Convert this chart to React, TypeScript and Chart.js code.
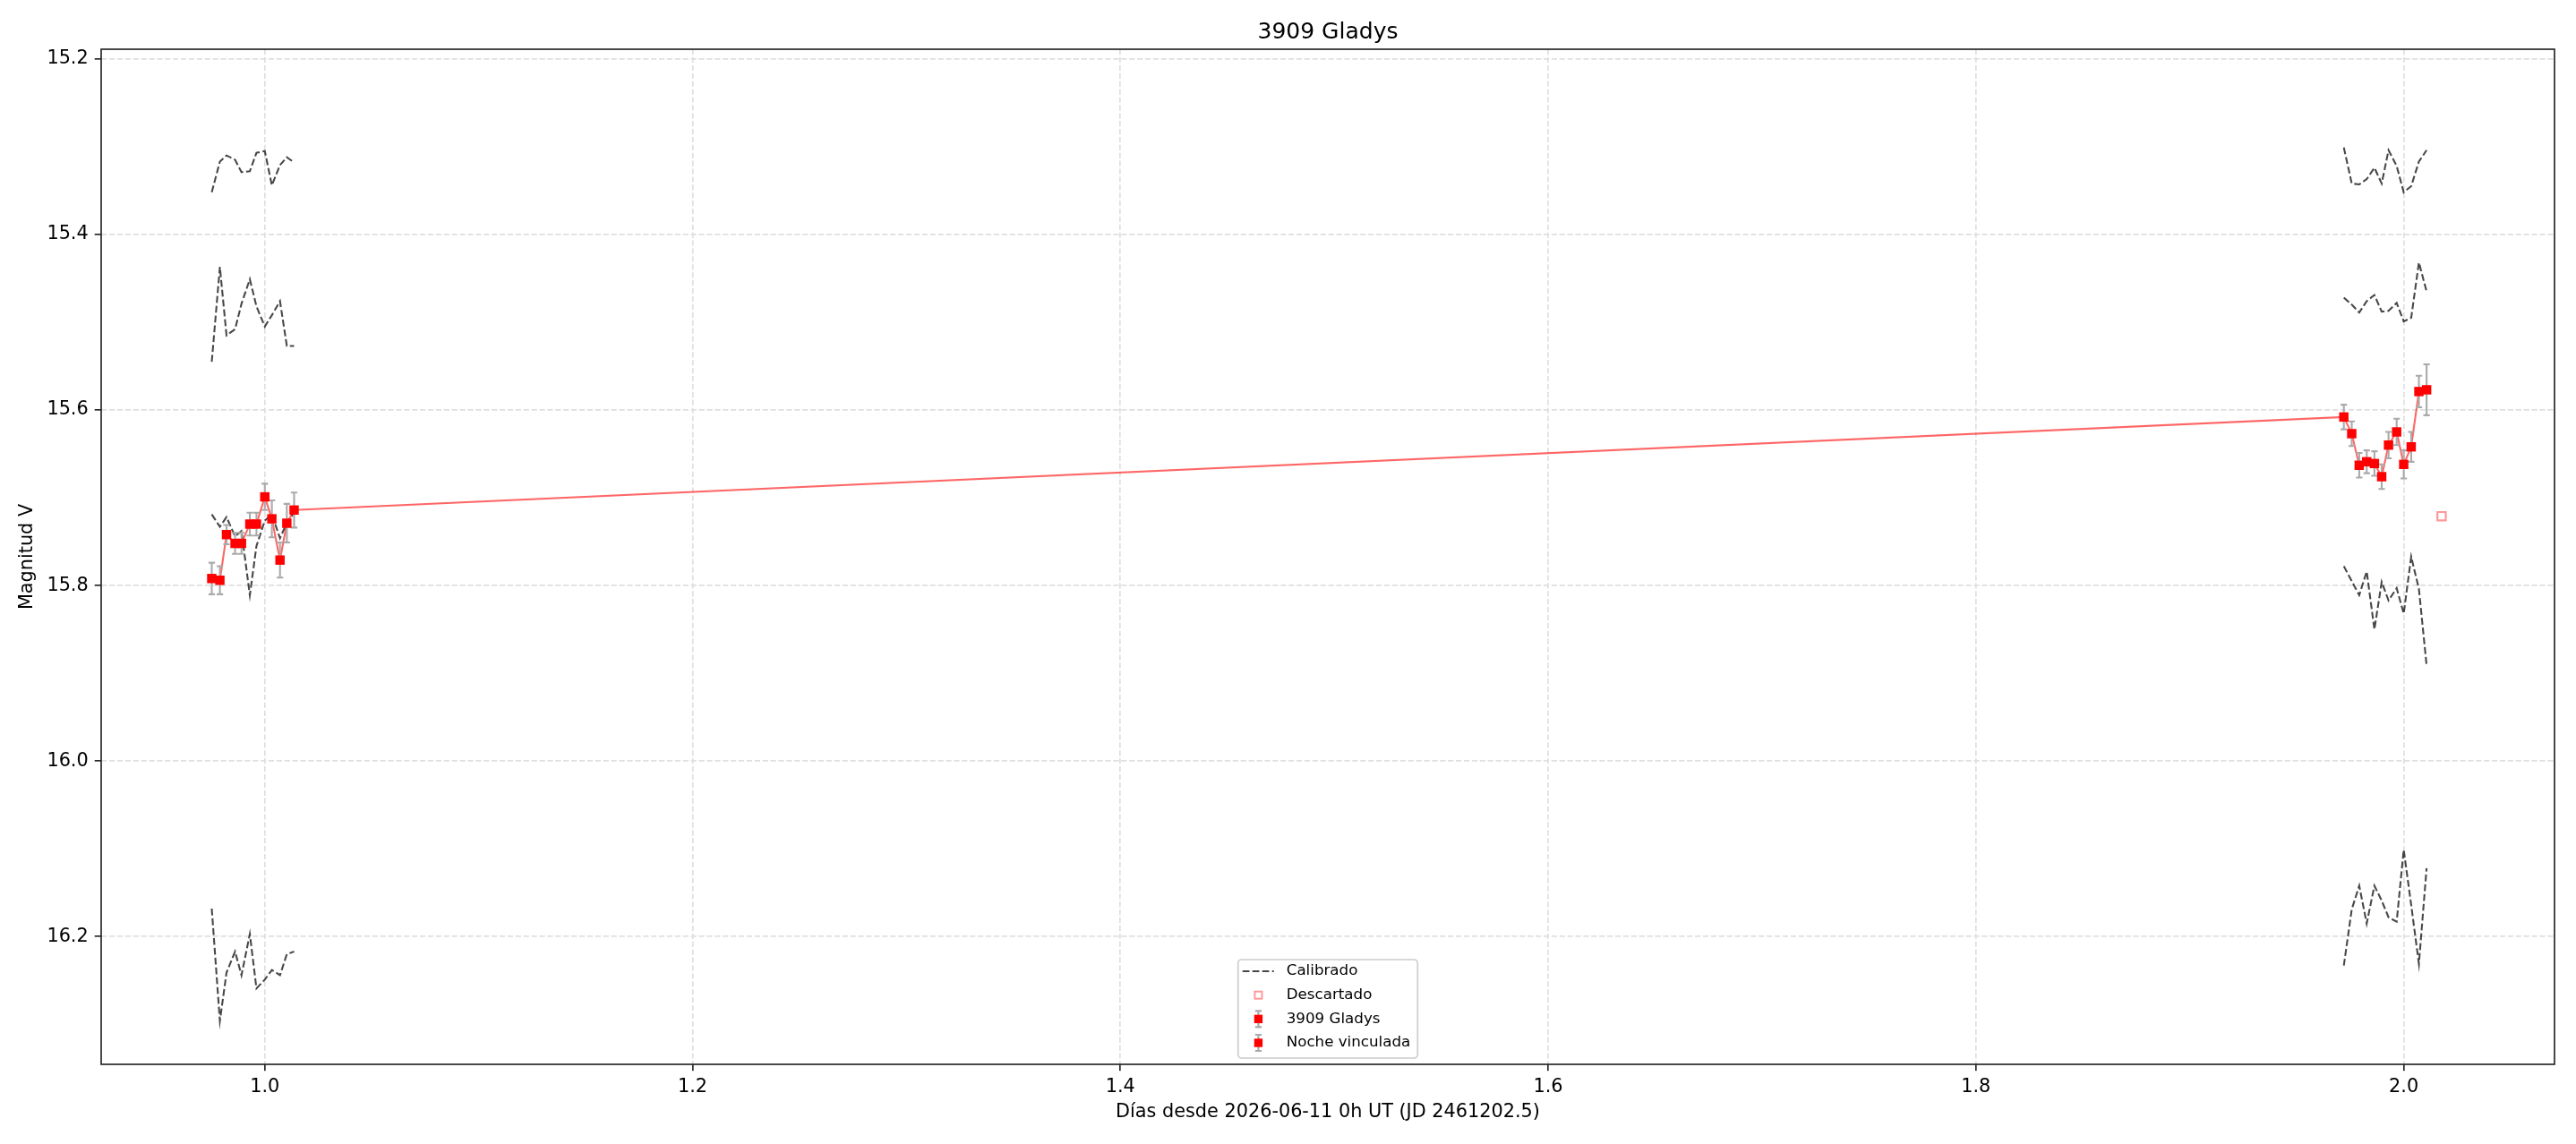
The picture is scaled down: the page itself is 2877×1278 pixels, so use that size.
import { useEffect, useRef } from 'react';
import { Chart, registerables } from 'chart.js';

Chart.register(...registerables);

const FONT = "'DejaVu Sans', 'Liberation Sans', sans-serif";

// Days since 2026-06-11 0h UT
const night1Days = [0.9752, 0.979, 0.9821, 0.9861, 0.9891, 0.993, 0.9961, 1.0, 1.0033, 1.0071, 1.0103, 1.0137];
const night2Days = [1.972, 1.9757, 1.9792, 1.9827, 1.9863, 1.9897, 1.9929, 1.9967, 2.0, 2.0035, 2.0071, 2.0107];

// 3909 Gladys magnitudes and errors
const night1Mag = [15.792, 15.794, 15.742, 15.752, 15.752, 15.73, 15.73, 15.699, 15.724, 15.771, 15.729, 15.714];
const night1Err = [0.018, 0.016, 0.011, 0.012, 0.012, 0.013, 0.013, 0.015, 0.021, 0.02, 0.022, 0.02];
const night2Mag = [15.608, 15.627, 15.663, 15.659, 15.661, 15.676, 15.64, 15.625, 15.662, 15.642, 15.579, 15.577];
const night2Err = [0.014, 0.014, 0.014, 0.013, 0.014, 0.014, 0.015, 0.015, 0.016, 0.017, 0.018, 0.029];

// Calibrated comparison stars
const compA1 = [15.352, 15.317, 15.31, 15.315, 15.329, 15.328, 15.307, 15.305, 15.344, 15.321, 15.312, 15.318];
const compB1 = [15.545, 15.437, 15.515, 15.508, 15.479, 15.451, 15.482, 15.505, 15.492, 15.476, 15.527, 15.527];
const compC1 = [15.719, 15.733, 15.722, 15.744, 15.738, 15.811, 15.755, 15.726, 15.719, 15.746, 15.729, 15.717];
const compD1 = [16.168, 16.296, 16.241, 16.217, 16.244, 16.197, 16.259, 16.249, 16.238, 16.244, 16.22, 16.217];
const compA2 = [15.301, 15.342, 15.343, 15.337, 15.324, 15.342, 15.304, 15.322, 15.352, 15.345, 15.317, 15.304];
const compB2 = [15.472, 15.48, 15.489, 15.476, 15.469, 15.488, 15.487, 15.478, 15.499, 15.495, 15.432, 15.465];
const compC2 = [15.778, 15.795, 15.811, 15.784, 15.85, 15.796, 15.817, 15.803, 15.832, 15.767, 15.804, 15.891];
const compD2 = [16.233, 16.169, 16.142, 16.185, 16.142, 16.159, 16.178, 16.183, 16.101, 16.164, 16.231, 16.122];

// Discarded observation
const discardedDays = [2.0177];
const discardedMag = [15.721];

const X_MIN = 0.9235;
const X_MAX = 2.0705;
const Y_TOP = 15.189;
const Y_BOTTOM = 16.3455;
const TICK_STEP = 0.2;

const TITLE = '3909 Gladys';
const legendLabels = ['Calibrado', 'Descartado', '3909 Gladys', 'Noche vinculada'];

const CAL_COLOR = 'rgba(0,0,0,0.72)';
const CAL_DASH = [7.7, 3.3];
const ERR_COLOR = '#aaaaaa';

const toPts = (xs: number[], ys: number[]) => xs.map((x, i) => ({ x, y: ys[i] }));

const errorBarPlugin = {
  id: 'errorBars',
  beforeDatasetDraw(chart: any, args: any) {
    const ds = chart.data.datasets[args.index];
    if (!ds.errors) return;
    const meta = chart.getDatasetMeta(args.index);
    const ys = chart.scales.y;
    const ctx = chart.ctx;
    ctx.save();
    ctx.strokeStyle = ERR_COLOR;
    ctx.lineWidth = 2.1;
    meta.data.forEach((pt: any, i: number) => {
      const d = ds.data[i];
      const e = ds.errors[i];
      const x = pt.x;
      const y1 = ys.getPixelForValue(d.y - e);
      const y2 = ys.getPixelForValue(d.y + e);
      ctx.beginPath();
      ctx.moveTo(x, y1);
      ctx.lineTo(x, y2);
      ctx.moveTo(x - 3.6, y1);
      ctx.lineTo(x + 3.6, y1);
      ctx.moveTo(x - 3.6, y2);
      ctx.lineTo(x + 3.6, y2);
      ctx.stroke();
    });
    ctx.restore();
  },
};

const frameLegendPlugin = {
  id: 'frameLegend',
  afterDraw(chart: any) {
    const { ctx, chartArea: a } = chart;
    ctx.save();
    ctx.strokeStyle = '#262626';
    ctx.lineWidth = 1.67;
    ctx.strokeRect(a.left, a.top, a.right - a.left, a.bottom - a.top);

    // title centred over the plot area
    ctx.font = `25px ${FONT}`;
    ctx.fillStyle = '#000000';
    ctx.textAlign = 'center';
    ctx.textBaseline = 'alphabetic';
    ctx.fillText(TITLE, (a.left + a.right) / 2, a.top - 12.5);

    ctx.font = `16.7px ${FONT}`;
    const textW = Math.max(...legendLabels.map((l) => ctx.measureText(l).width));
    const w = 54 + textW + 8;
    const h = 110;
    const x0 = (a.left + a.right) / 2 - w / 2;
    const y0 = a.bottom - 7 - h;
    ctx.beginPath();
    ctx.roundRect(x0, y0, w, h, 4);
    ctx.fillStyle = 'rgba(255,255,255,0.8)';
    ctx.fill();
    ctx.strokeStyle = '#cccccc';
    ctx.lineWidth = 1.67;
    ctx.stroke();

    const hx = x0 + 22.7;
    legendLabels.forEach((label, i) => {
      const cy = y0 + 13 + i * 26.67;
      if (i === 0) {
        ctx.save();
        ctx.strokeStyle = CAL_COLOR;
        ctx.lineWidth = 2.08;
        ctx.setLineDash(CAL_DASH);
        ctx.beginPath();
        ctx.moveTo(x0 + 5, cy);
        ctx.lineTo(x0 + 40, cy);
        ctx.stroke();
        ctx.restore();
      } else if (i === 1) {
        ctx.save();
        ctx.strokeStyle = '#ff9999';
        ctx.lineWidth = 2;
        ctx.strokeRect(hx - 4, cy - 4, 8, 8);
        ctx.restore();
      } else {
        ctx.save();
        ctx.strokeStyle = ERR_COLOR;
        ctx.lineWidth = 2.1;
        ctx.beginPath();
        ctx.moveTo(hx, cy - 9);
        ctx.lineTo(hx, cy + 9);
        ctx.moveTo(hx - 3.6, cy - 9);
        ctx.lineTo(hx + 3.6, cy - 9);
        ctx.moveTo(hx - 3.6, cy + 9);
        ctx.lineTo(hx + 3.6, cy + 9);
        ctx.stroke();
        ctx.fillStyle = '#ff0000';
        ctx.fillRect(hx - 4.7, cy - 4.7, 9.4, 9.4);
        ctx.restore();
      }
      ctx.fillStyle = '#000000';
      ctx.textBaseline = 'middle';
      ctx.textAlign = 'left';
      ctx.fillText(label, x0 + 54, cy);
    });
    ctx.restore();
  },
};

export default function App() {
  const canvasRef = useRef<HTMLCanvasElement | null>(null);

  useEffect(() => {
    document.body.style.margin = '0';
    const canvas = canvasRef.current;
    if (!canvas) return;

    const calDs = (label: string, xs: number[], ys: number[]) => ({
      label,
      data: toPts(xs, ys),
      borderColor: CAL_COLOR,
      borderWidth: 2.08,
      borderDash: CAL_DASH,
      pointRadius: 0,
      fill: false,
      tension: 0,
      order: 3,
    });

    const markerDs = (label: string, xs: number[], ys: number[], errs: number[]) => ({
      label,
      data: toPts(xs, ys),
      errors: errs,
      showLine: false,
      pointStyle: 'rect',
      pointRadius: 7.4,
      pointBackgroundColor: '#ff0000',
      pointBorderWidth: 0,
      borderWidth: 0,
      order: 0,
    });

    const allDays = [...night1Days, ...night2Days];
    const allMag = [...night1Mag, ...night2Mag];

    const tickFont = { family: FONT, size: 20.8 };

    const chart = new Chart(canvas, {
      type: 'line',
      data: {
        datasets: [
          markerDs('3909 Gladys', night1Days, night1Mag, night1Err),
          markerDs('Noche vinculada', night2Days, night2Mag, night2Err),
          {
            label: 'Descartado',
            data: toPts(discardedDays, discardedMag),
            showLine: false,
            pointStyle: 'rect',
            pointRadius: 6.6,
            pointBackgroundColor: 'rgba(255,255,255,0)',
            pointBorderColor: '#ff9999',
            pointBorderWidth: 2.2,
            order: 1,
          },
          {
            label: 'gladysLine',
            data: toPts(allDays, allMag),
            borderColor: 'rgba(255,0,0,0.6)',
            borderWidth: 2.08,
            pointRadius: 0,
            tension: 0,
            order: 2,
          },
          calDs('Calibrado', night1Days, compA1),
          calDs('Calibrado', night1Days, compB1),
          calDs('Calibrado', night1Days, compC1),
          calDs('Calibrado', night1Days, compD1),
          calDs('Calibrado', night2Days, compA2),
          calDs('Calibrado', night2Days, compB2),
          calDs('Calibrado', night2Days, compC2),
          calDs('Calibrado', night2Days, compD2),
        ] as any,
      },
      options: {
        responsive: false,
        animation: false,
        devicePixelRatio: 1,
        events: [],
        layout: { padding: { left: 0, right: 24, top: 55, bottom: 0 } },
        plugins: {
          legend: { display: false },
          tooltip: { enabled: false },
          title: { display: false },
        },
        scales: {
          x: {
            type: 'linear',
            min: X_MIN,
            max: X_MAX,
            afterFit: (s: any) => {
              s.height = 89;
            },
            ticks: {
              stepSize: TICK_STEP,
              includeBounds: false,
              autoSkip: false,
              maxRotation: 0,
              color: '#000000',
              font: tickFont,
              padding: 6,
              callback: (v: any) => Number(v).toFixed(1),
            },
            grid: {
              color: '#dfdfdf',
              lineWidth: 1.67,
              tickColor: '#262626',
              tickLength: 7.3,
              tickWidth: 1.67,
            },
            border: { display: false, dash: [6.2, 2.7] },
            title: {
              display: true,
              text: 'Días desde 2026-06-11 0h UT (JD 2461202.5)',
              color: '#000000',
              font: tickFont,
              padding: { top: 0, bottom: 22.8 },
            },
          },
          y: {
            type: 'linear',
            reverse: true,
            min: Y_TOP,
            max: Y_BOTTOM,
            afterFit: (s: any) => {
              s.width = 113;
            },
            ticks: {
              stepSize: TICK_STEP,
              includeBounds: false,
              autoSkip: false,
              color: '#000000',
              font: tickFont,
              padding: 7,
              callback: (v: any) => Number(v).toFixed(1),
            },
            grid: {
              color: '#dfdfdf',
              lineWidth: 1.67,
              tickColor: '#262626',
              tickLength: 7.3,
              tickWidth: 1.67,
            },
            border: { display: false, dash: [6.2, 2.7] },
            title: {
              display: true,
              text: 'Magnitud V',
              color: '#000000',
              font: tickFont,
              padding: { top: 17.8, bottom: 0 },
            },
          },
        },
      } as any,
      plugins: [errorBarPlugin, frameLegendPlugin],
    });

    return () => {
      chart.destroy();
    };
  }, []);

  return (
    <div style={{ position: 'absolute', left: 0, top: 0, width: 2877, height: 1278 }}>
      <canvas ref={canvasRef} width={2877} height={1278} style={{ display: 'block', width: 2877, height: 1278 }} />
    </div>
  );
}
